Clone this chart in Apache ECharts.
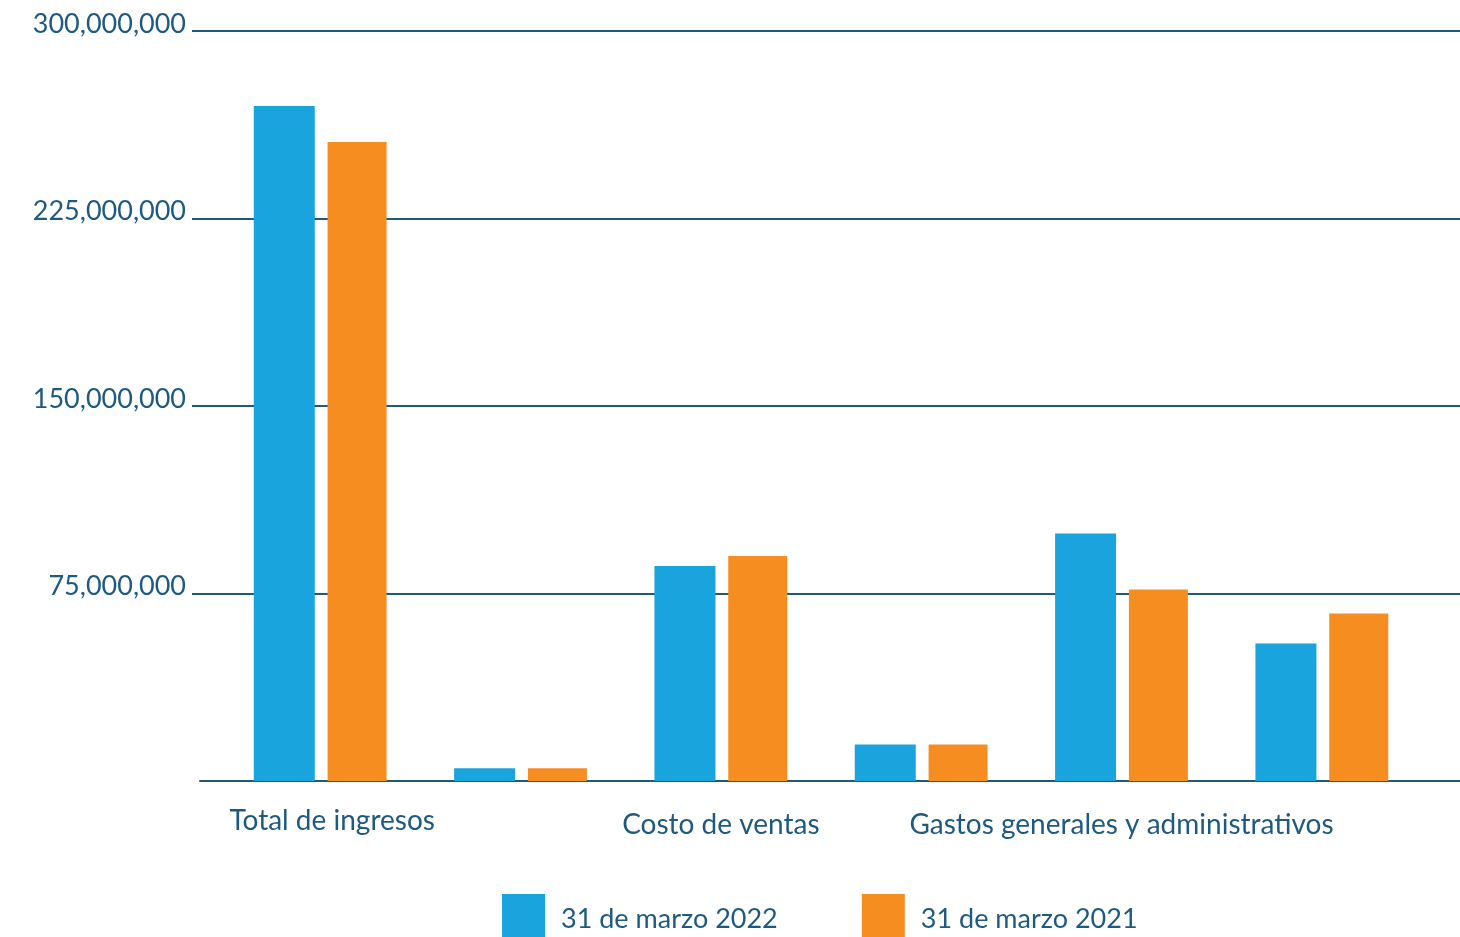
<!DOCTYPE html>
<html>
<head>
<meta charset="utf-8">
<script src="https://cdn.jsdelivr.net/npm/echarts@6/dist/echarts.min.js"></script>
<style>
  html, body { margin: 0; padding: 0; background: #ffffff; }
  #chart { width: 1460px; height: 937px; }
</style>
</head>
<body>
<div id="chart"></div>
<script>
// Categories (only some carry a printed label)
const categories = ['Total de ingresos', '', 'Costo de ventas', '', 'Gastos generales y administrativos', ''];
const seriesNames = ['31 de marzo 2022', '31 de marzo 2021'];
const values2022 = [270000000, 5100000, 86000000, 14600000, 99000000, 55000000];
const values2021 = [255600000, 5100000, 90000000, 14600000, 76600000, 67000000];
const yTicks = [0, 75000000, 150000000, 225000000, 300000000];

const BLUE = '#1AA4DD';
const ORANGE = '#F68D21';
const NAVY = '#1E5A80';
const LINE = '#22587B';
const FONT = 'Lato, "Open Sans", sans-serif';

const yMin = yTicks[0];
const yMax = yTicks[yTicks.length - 1];
const yStep = yTicks[1] - yTicks[0];

const fmt = v => v.toLocaleString('en-US');

const chart = echarts.init(document.getElementById('chart'), null, { renderer: 'canvas' });

const plotTop = 31;
const plotBottom = 156;

const option = {
  backgroundColor: '#ffffff',
  textStyle: { fontFamily: FONT, color: NAVY },
  animation: false,
  legend: {
    data: seriesNames,
    left: 502,
    top: 894,
    padding: 0,
    itemWidth: 43,
    itemHeight: 43,
    itemGap: 84,
    icon: 'rect',
    formatter: name => '{t|' + name + '}',
    textStyle: {
      fontFamily: FONT, fontSize: 27, color: NAVY,
      rich: { t: { fontFamily: FONT, fontSize: 27, color: NAVY, padding: [8, 0, 0, 11] } }
    }
  },
  grid: [
    // value axis labels and gridlines
    { left: 192, right: 0, top: plotTop, bottom: plotBottom, containLabel: false },
    // baseline
    { left: 200, right: 0, top: plotTop, bottom: plotBottom, containLabel: false },
    // bars
    { left: 220, width: 1202, top: plotTop, bottom: plotBottom, containLabel: false }
  ],
  xAxis: [
    { type: 'category', gridIndex: 0, data: categories, show: false },
    {
      type: 'category', gridIndex: 1, data: categories,
      axisLine: { show: true, lineStyle: { color: LINE, width: 2 } },
      axisTick: { show: false }, axisLabel: { show: false }, splitLine: { show: false }
    },
    {
      type: 'category', gridIndex: 2, data: categories,
      axisLine: { show: false }, axisTick: { show: false },
      axisLabel: {
        interval: 0, margin: 26,
        fontFamily: FONT, fontSize: 28, color: NAVY,
        formatter: (v, i) => v ? (i === 0 ? '{first|' + v + '}' : '{rest|' + v + '}') : '',
        rich: {
          first: { fontFamily: FONT, fontSize: 28, color: NAVY, padding: [0, 0, 0, 24] },
          rest: { fontFamily: FONT, fontSize: 28, color: NAVY, padding: [4, 0, 0, 0] }
        }
      }
    }
  ],
  yAxis: [
    {
      type: 'value', gridIndex: 0, min: yMin, max: yMax, interval: yStep,
      axisLine: { show: false }, axisTick: { show: false },
      axisLabel: {
        showMinLabel: false, margin: 6,
        fontFamily: FONT, fontSize: 27, color: NAVY,
        verticalAlign: 'bottom', lineHeight: 14,
        formatter: v => fmt(v)
      },
      splitLine: {
        show: true,
        lineStyle: { color: ['rgba(0,0,0,0)', LINE, LINE, LINE, LINE], width: 2 }
      }
    },
    { type: 'value', gridIndex: 1, min: yMin, max: yMax, interval: yStep, show: false, splitLine: { show: false } },
    { type: 'value', gridIndex: 2, min: yMin, max: yMax, interval: yStep, show: false, splitLine: { show: false } }
  ],
  series: [
    {
      name: seriesNames[0], type: 'bar', xAxisIndex: 2, yAxisIndex: 2,
      data: values2022, barWidth: 61, barGap: '21%',
      itemStyle: { color: BLUE }, z: 3
    },
    {
      name: seriesNames[1], type: 'bar', xAxisIndex: 2, yAxisIndex: 2,
      data: values2021, barWidth: 59, barGap: '21%',
      itemStyle: { color: ORANGE }, z: 3
    }
  ]
};

chart.setOption(option);
</script>
</body>
</html>
